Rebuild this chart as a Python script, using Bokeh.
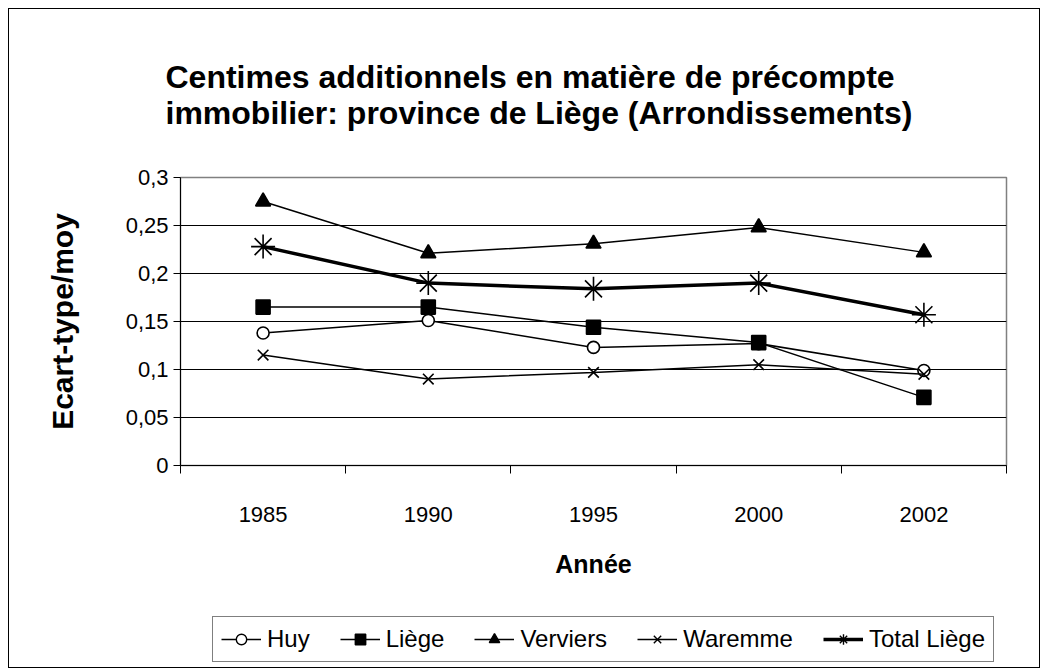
from bokeh.plotting import figure
from bokeh.layouts import column
from bokeh.models import (Title, Legend, LegendItem, FixedTicker,
                          CustomJSTickFormatter, Range1d)
from bokeh.embed import file_html
from bokeh.resources import INLINE

# ---- data ----
years = ["1985", "1990", "1995", "2000", "2002"]
huy = [0.138, 0.151, 0.123, 0.127, 0.099]
liege = [0.165, 0.165, 0.144, 0.128, 0.071]
verviers = [0.275, 0.221, 0.231, 0.248, 0.222]
waremme = [0.115, 0.090, 0.097, 0.105, 0.095]
total_liege = [0.228, 0.190, 0.184, 0.190, 0.157]
y_ticks = [0, 0.05, 0.1, 0.15, 0.2, 0.25, 0.3]

FONT = "Liberation Sans"
xs = list(range(len(years)))

W = 1030
H_MAIN, H_LEG = 600, 58

p = figure(width=W, height=H_MAIN, output_backend="svg",
           toolbar_location=None, title=None,
           x_range=Range1d(-0.5, len(years) - 0.5),
           y_range=Range1d(y_ticks[0], y_ticks[-1]),
           min_border_left=171, min_border_right=33,
           min_border_top=168, min_border_bottom=144,
           background_fill_color="white", border_fill_color="white")

p.outline_line_color = "#808080"
p.outline_line_width = 1.5

# title (two lines)
t = Title(text="Centimes additionnels en matière de précompte\nimmobilier: province de Liège (Arrondissements)",
          align="left", offset=-15, standoff=94,
          text_font=FONT, text_font_size="32px", text_font_style="bold",
          text_color="black", text_line_height=1.0)
p.add_layout(t, "above")

# x axis
xa = p.xaxis[0]
xa.ticker = FixedTicker(ticks=xs, minor_ticks=[i - 0.5 for i in range(len(years) + 1)])
xa.major_label_overrides = {i: y for i, y in enumerate(years)}
xa.major_tick_out = 0
xa.major_tick_in = 0
xa.minor_tick_out = 8
xa.minor_tick_in = 0
xa.minor_tick_line_color = "black"
xa.axis_line_color = "black"
xa.major_label_standoff = 33
xa.major_label_text_font = FONT
xa.major_label_text_font_size = "22px"
xa.major_label_text_color = "black"
xa.axis_label = "Année"
xa.axis_label_text_font = FONT
xa.axis_label_text_font_size = "25px"
xa.axis_label_text_font_style = "bold"
xa.axis_label_text_color = "black"
xa.axis_label_standoff = 25

# y axis
ya = p.yaxis[0]
ya.ticker = FixedTicker(ticks=y_ticks, minor_ticks=[])
ya.formatter = CustomJSTickFormatter(code="""
    let s = tick.toFixed(2);
    s = s.replace(/0+$/, '').replace(/\\.$/, '');
    return s.replace('.', ',');
""")
ya.major_tick_out = 7
ya.major_tick_in = 0
ya.major_tick_line_color = "black"
ya.axis_line_color = "black"
ya.major_label_standoff = 5
ya.major_label_text_font = FONT
ya.major_label_text_font_size = "22px"
ya.major_label_text_color = "black"
ya.axis_label = "Ecart-type/moy"
ya.axis_label_text_font = FONT
ya.axis_label_text_font_size = "30px"
ya.axis_label_text_font_style = "bold"
ya.axis_label_text_color = "black"
ya.axis_label_standoff = 44

p.xgrid.visible = False
p.ygrid.ticker = FixedTicker(ticks=y_ticks)
p.ygrid.grid_line_color = "black"
p.ygrid.grid_line_width = 1

# legend strip (separate figure; its copies of the series lie outside its view,
# only the legend keys show)
pl = figure(width=W, height=H_LEG, output_backend="svg", toolbar_location=None,
            title=None, x_axis_location=None, y_axis_location=None,
            x_range=Range1d(100, 101), y_range=Range1d(100, 101),
            min_border=0, outline_line_color=None,
            background_fill_color="white", border_fill_color="white")
pl.grid.visible = False

series_names = ["Huy", "Liège", "Verviers", "Waremme", "Total Liège"]
series_vals = [huy, liege, verviers, waremme, total_liege]
markers = ["circle", "square", "triangle", "x", "asterisk"]
sizes = [12, 14, 15, 15, 24]
fills = ["white", "black", "black", None, None]
widths = [1.5, 1.5, 1.5, 1.5, 3.5]

items = []
for name, vals, mk, sz, fc, lw in zip(series_names, series_vals, markers, sizes, fills, widths):
    p.line(xs, vals, line_color="black", line_width=lw)
    p.scatter(xs, vals, marker=mk, size=sz, line_color="black",
              fill_color=fc, line_width=1.6)
    kl = pl.line(xs, vals, line_color="black", line_width=lw)
    ks = pl.scatter(xs, vals, marker=mk, size=sz, line_color="black",
                    fill_color=fc, line_width=1.4)
    items.append(LegendItem(label=name, renderers=[kl, ks]))

legend = Legend(items=items, orientation="horizontal", location=(32, 5),
                border_line_color="black", border_line_width=1,
                background_fill_color="white", background_fill_alpha=1,
                label_text_font=FONT, label_text_font_size="24px",
                label_text_color="black",
                glyph_width=40, glyph_height=26, spacing=30, padding=8,
                label_standoff=6, margin=0)
pl.add_layout(legend)

layout = column(p, pl, spacing=0,
                styles={"border": "1px solid black", "margin": "8px 0 0 8px"})

open("out.html", "w").write(file_html(layout, INLINE))
